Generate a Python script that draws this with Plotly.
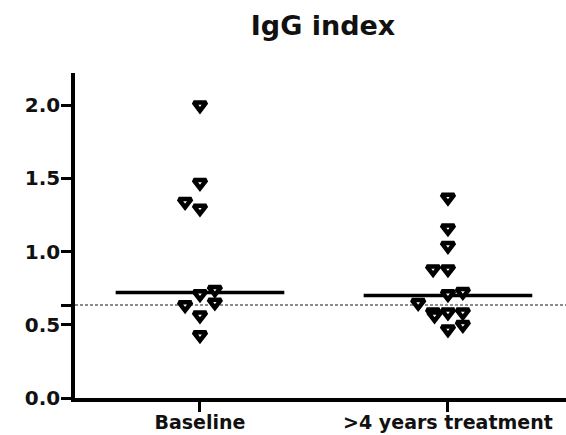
import plotly.graph_objects as go

# IgG index per patient, two time points
groups = ["Baseline", ">4 years treatment"]
baseline = [2.00, 1.47, 1.34, 1.295, 0.74, 0.71, 0.653, 0.635, 0.565, 0.43]
treated = [1.37, 1.16, 1.04, 0.88, 0.88, 0.725, 0.71, 0.65,
           0.585, 0.585, 0.585, 0.565, 0.50, 0.47]
# horizontal scatter slot of each point (column spread)
baseline_slots = [0, 0, -1, 0, 1, 0, 1, -1, 0, 0]
treated_slots = [0, 0, 0, -1, 0, 1, 0, -2, -1, 0, 1, -0.9, 1, 0]
# group medians
medians = [0.72, 0.70]
# reference (upper normal) level
reference_level = 0.635

y_ticks = [0, 0.5, reference_level, 1.0, 1.5, 2.0]
y_tick_text = ["0.0", "0.5", "", "1.0", "1.5", "2.0"]

SLOT = 0.06
HALF = 0.34
FONT = "DejaVu Sans"

fig = go.Figure()

for gi, (vals, slots) in enumerate([(baseline, baseline_slots), (treated, treated_slots)]):
    fig.add_trace(go.Scatter(
        x=[gi + s * SLOT for s in slots],
        y=vals,
        mode="markers",
        marker=dict(symbol="triangle-down", size=11, color="white",
                    line=dict(color="black", width=4.5)),
        showlegend=False,
        hoverinfo="y",
    ))

# median bars
for gi, m in enumerate(medians):
    fig.add_shape(type="line", xref="x", yref="y",
                  x0=gi - HALF, x1=gi + HALF, y0=m, y1=m,
                  line=dict(color="black", width=3.5), layer="below")

# dotted reference line across the plot
fig.add_shape(type="line", xref="paper", yref="y",
              x0=0, x1=1, y0=reference_level, y1=reference_level,
              line=dict(color="#666666", width=1.5, dash="3px,2px"), layer="below")

fig.update_layout(
    width=566, height=435,
    margin=dict(l=75, r=0, t=73, b=37),
    paper_bgcolor="white", plot_bgcolor="white",
    title=dict(text="<b>IgG index</b>", x=323 / 566, xref="container", xanchor="center",
               y=1 - 26 / 435, yref="container", yanchor="middle",
               font=dict(family=FONT, size=27, color="#111111")),
    font=dict(family=FONT, color="#111111"),
)

fig.update_xaxes(
    range=[-0.504, 1.476],
    tickvals=[0, 1], ticktext=[f"<b>{g}</b>" for g in groups],
    tickfont=dict(family=FONT, size=19, color="#111111"),
    ticks="outside", ticklen=10, tickwidth=3, tickcolor="black",
    ticklabelstandoff=-6,
    showline=True, linecolor="black", linewidth=3.5,
    showgrid=False, zeroline=False, fixedrange=True,
)
fig.update_yaxes(
    range=[0, 2.22],
    tickvals=y_ticks, ticktext=[f"<b>{t}</b>" if t else "" for t in y_tick_text],
    tickfont=dict(family=FONT, size=20, color="#111111"),
    ticks="outside", ticklen=10, tickwidth=3, tickcolor="black",
    ticklabelstandoff=-3,
    showline=True, linecolor="black", linewidth=3.5,
    showgrid=False, zeroline=False, fixedrange=True,
)

fig.write_html("out.html")
